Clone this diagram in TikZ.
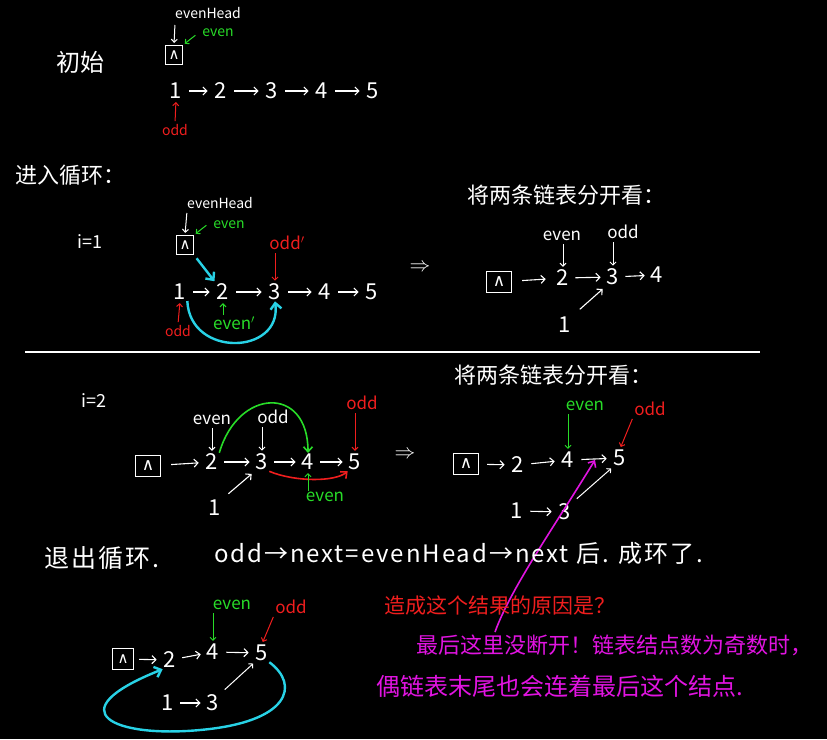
\documentclass[tikz,border=0pt]{standalone}
\usepackage{fontspec}
\setmainfont{Noto Sans CJK SC}
\newfontfamily\symf{DejaVu Sans}
\usetikzlibrary{arrows.meta}
\definecolor{hgreen}{RGB}{40,220,40}
\definecolor{hred}{RGB}{240,30,30}
\definecolor{hcyan}{RGB}{40,210,230}
\definecolor{hmag}{RGB}{225,20,225}
\tikzset{
  num/.style={text=white,font=\fontsize{22}{24}\selectfont,inner sep=1pt},
  lbl/.style={font=\fontsize{14}{16}\selectfont,inner sep=1pt},
  mlbl/.style={font=\fontsize{17}{19}\selectfont,inner sep=1pt},
  cn/.style={text=white,font=\fontsize{22}{26}\selectfont,inner sep=1pt},
  nbs/.style={draw=white,line width=1.2pt,minimum width=17pt,minimum height=19pt,inner sep=0pt,text=white,font=\symf\fontsize{15}{15}\selectfont},
  nbl/.style={draw=white,line width=1.2pt,minimum width=25pt,minimum height=21pt,inner sep=0pt,text=white,font=\symf\fontsize{17}{17}\selectfont},
  ch/.style={draw=white,line width=1.1pt,-{Straight Barb[length=4pt,width=8pt]},shorten >=6pt,shorten <=6pt},
  pt/.style={line width=1pt,-{Straight Barb[length=3pt,width=6pt]},shorten >=2pt,shorten <=2pt},
  big/.style={line width=2.4pt,-{Straight Barb[length=6pt,width=11pt]}},
  mid/.style={line width=1.6pt,-{Straight Barb[length=5pt,width=9pt]}}
}
\begin{document}
\begin{tikzpicture}[x=1pt,y=-1pt]
\fill[black] (0,0) rectangle (827,739);
\useasboundingbox (0,0) rectangle (827,739);

% ---------- Section 1: 初始
\node[cn,font=\fontsize{24}{26}\selectfont] (t1) at (80,62) {初始};
\node[lbl,text=white] (eh1) at (208,13) {evenHead};
\node[nbs] (b1) at (174,55) {∧};
\coordinate (p1) at (175,23);
\draw[pt,white] (p1) -- (b1.north);
\node[lbl,text=hgreen] (ev1) at (218,33) {even};
\coordinate (g1) at (197,34);
\draw[pt,hgreen] (g1) -- (b1.north east);
\node[num] (n11) at (176,91) {1};
\node[num] (n12) at (221,91) {2};
\node[num] (n13) at (272,91) {3};
\node[num] (n14) at (322,91) {4};
\node[num] (n15) at (373,91) {5};
\draw[ch] (n11) -- (n12);
\draw[ch] (n12) -- (n13);
\draw[ch] (n13) -- (n14);
\draw[ch] (n14) -- (n15);
\node[lbl,text=hred] (o1) at (175,130) {odd};
\draw[pt,hred] (o1.north) -- (n11.south);

% ---------- Section 2: 进入循环
\node[cn,font=\fontsize{22}{24}\selectfont] (t2) at (70,175) {进入循环：};
\node[num,font=\fontsize{18}{20}\selectfont] (i1) at (90,242) {i=1};
\node[lbl,text=white] (eh2) at (220,203) {evenHead};
\node[nbs] (b2) at (185,245) {∧};
\coordinate (p2) at (187,211);
\draw[pt,white] (p2) -- (b2.north);
\node[lbl,text=hgreen] (ev2) at (229,225) {even};
\coordinate (g2) at (208,224);
\draw[pt,hgreen] (g2) -- (b2.north east);
\node[num] (n21) at (180,292) {1};
\node[num] (n22) at (223,292) {2};
\node[num] (n23) at (275,292) {3};
\node[num] (n24) at (325,292) {4};
\node[num] (n25) at (372,292) {5};
\draw[ch] (n21) -- (n22);
\draw[ch] (n22) -- (n23);
\draw[ch] (n23) -- (n24);
\draw[ch] (n24) -- (n25);
\draw[big,hcyan,shorten <=4pt,shorten >=2pt] (b2.south east) -- (n22.north west);
\node[mlbl,text=hred] (od2) at (287,243) {odd$'$};
\draw[pt,hred] (od2.south -| n23) -- (n23.north);
\node[lbl,text=hred] (o2) at (178,331) {odd};
\draw[pt,hred] (o2.north) -- (n21.south);
\node[mlbl,text=hgreen] (e2) at (234,323) {even$'$};
\draw[pt,hgreen,shorten <=0pt] (e2.north -| n22) -- (n22.south);
\draw[big,hcyan] (n21.south east) .. controls (190,358) and (282,355) .. (n23.south);
\node[num] (im1) at (420,268) {$\Rightarrow$};

\node[cn] (t3) at (566,195) {将两条链表分开看：};
\node[mlbl,text=white] (ev3) at (562,236) {even};
\node[mlbl,text=white] (od3) at (623,232) {odd};
\node[nbl] (b3) at (499,282) {∧};
\node[num] (n32) at (563,278) {2};
\node[num] (n33) at (613,277) {3};
\node[num] (n34) at (657,275) {4};
\draw[ch,shorten <=10pt,shorten >=10pt] (b3) -- (n32);
\draw[ch,shorten <=5pt,shorten >=5pt] (n32) -- (n33);
\draw[ch,shorten <=5pt,shorten >=5pt] (n33) -- (n34);
\draw[pt,white] (ev3.south -| n32) -- (n32.north);
\draw[pt,white] (od3.south -| n33) -- (n33.north);
\node[num] (n31) at (565,325) {1};
\draw[ch,shorten <=10pt,shorten >=4pt] (n31.north east) -- (n33.south west);

% separator
\coordinate (s1) at (25,352);
\coordinate (s2) at (760,352);
\draw[white,line width=1.5pt] (s1) -- (s2);

% ---------- Section 3: i=2
\node[num,font=\fontsize{18}{20}\selectfont] (i2) at (94,401) {i=2};
\node[mlbl,text=white] (ev4) at (212,420) {even};
\node[mlbl,text=white] (od4) at (273,417) {odd};
\node[nbl] (b4) at (148,466) {∧};
\node[num] (n42) at (212,462) {2};
\node[num] (n43) at (262,462) {3};
\node[num] (n44) at (308,462) {4};
\node[num] (n45) at (355,462) {5};
\draw[ch,shorten <=10pt] (b4) -- (n42);
\draw[ch,shorten <=5pt,shorten >=5pt] (n42) -- (n43);
\draw[ch,shorten <=5pt,shorten >=5pt] (n43) -- (n44);
\draw[ch,shorten <=5pt,shorten >=5pt] (n44) -- (n45);
\draw[pt,white] (ev4.south -| n42) -- (n42.north);
\draw[pt,white] (od4.south -| n43) -- (n43.north);
\draw[mid,hgreen] (n42.north east) .. controls (238,388) and (308,385) .. (n44.north);
\node[mlbl,text=hred] (od5) at (362,403) {odd};
\draw[pt,hred] (od5.south -| n45) -- (n45.north);
\draw[mid,hred] (n43.south east) .. controls (295,482) and (335,482) .. (n45.south west);
\node[mlbl,text=hgreen] (e4) at (325,497) {even};
\draw[pt,hgreen,shorten <=0pt] (e4.north -| n44) -- (n44.south);
\node[num] (n41) at (215,508) {1};
\draw[ch,shorten <=8pt,shorten >=4pt] (n41.north east) -- (n43.south west);
\node[num] (im2) at (405,455) {$\Rightarrow$};

\node[cn] (t4) at (553,375) {将两条链表分开看：};
\node[mlbl,text=hgreen] (ev5) at (585,406) {even};
\node[mlbl,text=hred] (od6) at (650,409) {odd};
\node[nbl] (b5) at (466,464) {∧};
\node[num] (n52) at (518,465) {2};
\node[num] (n54) at (568,460) {4};
\node[num] (n55) at (620,458) {5};
\draw[ch,shorten <=8pt] (b5) -- (n52);
\draw[ch] (n52) -- (n54);
\draw[ch] (n54) -- (n55);
\draw[pt,hgreen] (ev5.south -| n54) -- (n54.north);
\draw[pt,hred] (od6.south west) -- (n55.north);
\node[num] (n51) at (517,511) {1};
\node[num] (n53) at (565,512) {3};
\draw[ch] (n51) -- (n53);
\draw[pt,white,shorten <=6pt] (n53.north east) -- (n55.south west);

% magenta pointer
\coordinate (m0) at (495,632);
\coordinate (m1) at (595,460);
\draw[mid,hmag] (m0) .. controls (510,590) and (552,530) .. (m1);

% ---------- Section 4: 退出循环
\node[cn,font=\fontsize{25}{28}\selectfont\addfontfeatures{LetterSpace=8}] (t5) at (102,558) {退出循环.};
\node[cn,anchor=west,font=\fontsize{24}{28}\selectfont\addfontfeatures{LetterSpace=8}] (t6) at (213,553) {odd→next=evenHead→next 后. 成环了.};

\node[mlbl,text=hgreen] (ev7) at (232,605) {even};
\node[mlbl,text=hred] (od7) at (291,607) {odd};
\node[nbs,minimum width=21pt,minimum height=21pt] (b6) at (123,659) {∧};
\node[num] (n62) at (170,660) {2};
\node[num] (n64) at (213,652) {4};
\node[num] (n65) at (262,653) {5};
\draw[ch,shorten <=5pt] (b6) -- (n62);
\draw[ch,shorten <=5pt,shorten >=5pt] (n62) -- (n64);
\draw[ch] (n64) -- (n65);
\draw[pt,hgreen] (ev7.south -| n64) -- (n64.north);
\draw[pt,hred] (od7.south west) -- (n65.north);
\node[num] (n61) at (168,703) {1};
\node[num] (n63) at (213,703) {3};
\draw[ch,shorten <=5pt,shorten >=5pt] (n61) -- (n63);
\draw[pt,white,shorten <=6pt] (n63.north east) -- (n65.south west);
\draw[big,hcyan] (n65.south east) .. controls (300,685) and (290,722) .. (200,730)
  .. controls (115,738) and (55,712) .. (n62.south west);

% ---------- annotations
\node[text=hred,font=\fontsize{21}{24}\selectfont,inner sep=1pt] (q1) at (500,606) {造成这个结果的原因是？};
\node[text=hmag,font=\fontsize{22}{25}\selectfont,inner sep=1pt] (q2) at (614,645) {最后这里没断开！链表结点数为奇数时，};
\node[text=hmag,font=\fontsize{24}{27}\selectfont,inner sep=1pt] (q3) at (560,686) {偶链表末尾也会连着最后这个结点.};
\end{tikzpicture}
\end{document}
